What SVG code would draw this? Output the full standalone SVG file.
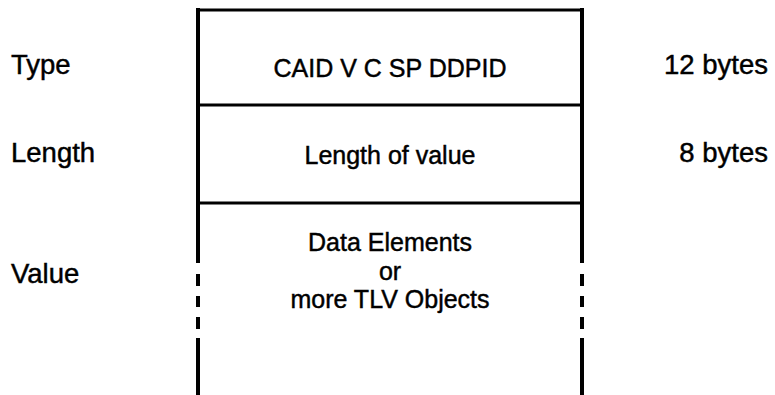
<svg xmlns="http://www.w3.org/2000/svg" width="775" height="395" viewBox="0 0 775 395">
  <style>
    text { font-family: "Liberation Sans", Arial, sans-serif; fill: #000; stroke: #000; stroke-width: 0.45px; }
    .lbl { font-size: 27.5px; }
    .cell { font-size: 25px; text-anchor: middle; }
    .size { font-size: 27.5px; text-anchor: end; }
    .edge { stroke: #000; stroke-width: 4; fill: none; }
    .rule { stroke: #000; stroke-width: 3; fill: none; }
  </style>
  <rect width="775" height="395" fill="#fff"/>

  <!-- field names -->
  <g id="labels">
    <text class="lbl" x="11" y="74">Type</text>
    <text class="lbl" x="11" y="162">Length</text>
    <text class="lbl" x="11" y="283">Value</text>
  </g>

  <!-- field sizes -->
  <g id="sizes">
    <text class="size" x="768" y="74">12 bytes</text>
    <text class="size" x="768" y="162">8 bytes</text>
  </g>

  <!-- TLV record frame -->
  <g id="frame">
    <line class="rule" x1="196" y1="10" x2="584" y2="10"/>
    <line class="rule" x1="198" y1="105" x2="582" y2="105"/>
    <line class="rule" x1="198" y1="203" x2="582" y2="203"/>
    <!-- side walls, broken to show open-ended length -->
    <path class="edge" d="M198 8 V263 M198 274 V286 M198 296 V307 M198 317 V329 M198 338 V395"/>
    <path class="edge" d="M582 8 V263 M582 274 V286 M582 296 V307 M582 317 V329 M582 338 V395"/>
  </g>

  <g id="type-field">
    <text class="cell" x="390" y="77">CAID V C SP DDPID</text>
  </g>
  <g id="length-field">
    <text class="cell" x="390" y="164">Length of value</text>
  </g>
  <g id="value-field">
    <text class="cell" x="390" y="251">Data Elements</text>
    <text class="cell" x="390" y="280">or</text>
    <text class="cell" x="390" y="308">more TLV Objects</text>
  </g>
</svg>
